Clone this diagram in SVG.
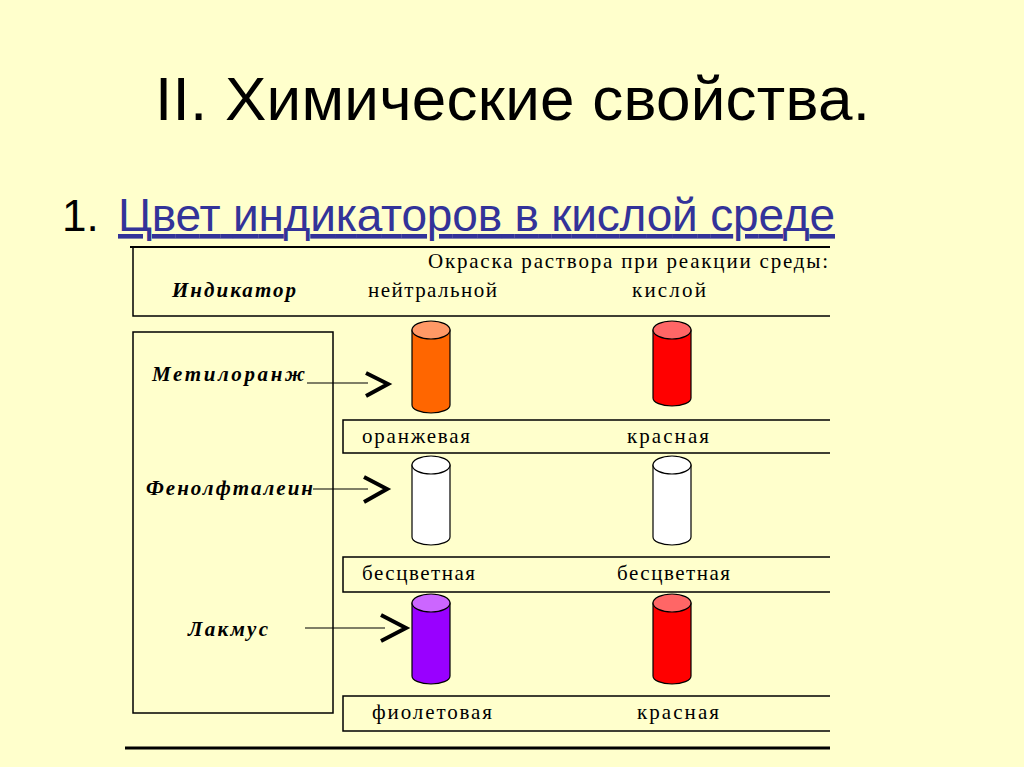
<svg xmlns="http://www.w3.org/2000/svg" width="1024" height="767" viewBox="0 0 1024 767">
<defs><style>
.t{font-family:"Liberation Serif",serif;font-size:21px;fill:#000}
.i{font-family:"Liberation Serif",serif;font-size:21px;font-style:italic;font-weight:bold;fill:#000}
.b{fill:none;stroke:#000;stroke-width:1.5}
.c{stroke:#000;stroke-width:1.2}
.ch{fill:none;stroke:#000;stroke-width:4}
</style></defs>
<rect width="1024" height="767" fill="#FFFFCC"/>
<text x="155" y="120" textLength="715" font-family="Liberation Sans,sans-serif" font-size="62" fill="#000">II. Химические свойства.</text>
<text x="62" y="231" font-family="Liberation Sans,sans-serif" font-size="44" fill="#000">1.</text>
<text x="118" y="231" textLength="717" font-family="Liberation Sans,sans-serif" font-size="46" fill="#333399" text-decoration="underline">Цвет индикаторов в кислой среде</text>
<g id="header">
<line x1="130" y1="247" x2="830" y2="247" stroke="#000" stroke-width="2"/>
<path class="b" d="M830 247 H133 V316 H830"/>
<text class="t" x="428" y="268" textLength="400">Окраска раствора при реакции  среды:</text>
<text class="i" x="172" y="297" textLength="124">Индикатор</text>
<text class="t" x="368" y="297" textLength="129">нейтральной</text>
<text class="t" x="632" y="297" textLength="74">кислой</text>
</g>
<g id="indicators">
<rect class="b" x="133" y="332" width="200" height="381"/>
<text class="i" x="152" y="381" textLength="153">Метилоранж</text>
<text class="i" x="146" y="495" textLength="167">Фенолфталеин</text>
<text class="i" x="188" y="636" textLength="80">Лакмус</text>
</g>
<g id="rows">
<path class="b" d="M830 420 H343 V453 H830"/>
<text class="t" x="362" y="443" textLength="108">оранжевая</text><text class="t" x="627" y="443" textLength="82">красная</text>
<path class="b" d="M830 557 H343 V592 H830"/>
<text class="t" x="362" y="580" textLength="113">бесцветная</text><text class="t" x="617" y="580" textLength="113">бесцветная</text>
<path class="b" d="M830 696 H343 V731 H830"/>
<text class="t" x="372" y="719" textLength="120">фиолетовая</text><text class="t" x="637" y="719" textLength="82">красная</text>
<line x1="125" y1="748" x2="830" y2="748" stroke="#000" stroke-width="3"/>
</g>
<g id="cyl1"><path class="c" fill="#FF6600" d="M412 330 V405 A19 8 0 0 0 450 405 V330 Z"/><ellipse class="c" cx="431" cy="330" rx="19" ry="9" fill="#FF9966"/></g>
<g id="cyl2"><path class="c" fill="#FF0000" d="M653 330 V398 A19 8 0 0 0 691 398 V330 Z"/><ellipse class="c" cx="672" cy="330" rx="19" ry="9" fill="#FF6666"/></g>
<g id="cyl3"><path class="c" fill="#FFF" d="M412 465 V537 A19 8 0 0 0 450 537 V465 Z"/><ellipse class="c" cx="431" cy="465" rx="19" ry="9" fill="#FFF"/></g>
<g id="cyl4"><path class="c" fill="#FFF" d="M653 465 V537 A19 8 0 0 0 691 537 V465 Z"/><ellipse class="c" cx="672" cy="465" rx="19" ry="9" fill="#FFF"/></g>
<g id="cyl5"><path class="c" fill="#9900FF" d="M412 603 V676 A19 8 0 0 0 450 676 V603 Z"/><ellipse class="c" cx="431" cy="603" rx="19" ry="9" fill="#CC66FF"/></g>
<g id="cyl6"><path class="c" fill="#FF0000" d="M653 603 V676 A19 8 0 0 0 691 676 V603 Z"/><ellipse class="c" cx="672" cy="603" rx="19" ry="9" fill="#FF6666"/></g>
<g id="connectors">
<line x1="307" y1="383" x2="368" y2="383" stroke="#000" stroke-width="1.2"/><path class="ch" d="M366 373 L388 384 L366 396"/>
<line x1="313" y1="489" x2="368" y2="489" stroke="#000" stroke-width="1.2"/><path class="ch" d="M364 477 L387 489 L364 502"/>
<line x1="305" y1="628" x2="385" y2="628" stroke="#000" stroke-width="1.2"/><path class="ch" d="M381 615 L406 628 L381 641"/>
</g>
</svg>
